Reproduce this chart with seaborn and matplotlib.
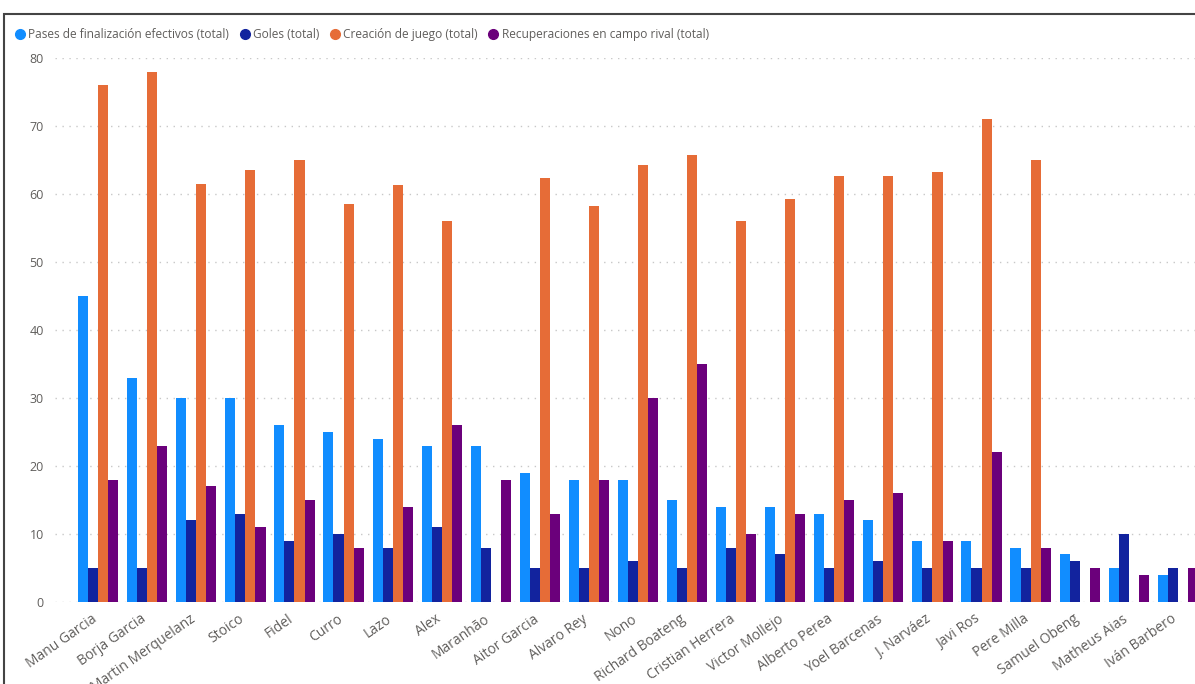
import pandas as pd
import matplotlib.pyplot as plt
import matplotlib.transforms as mtransforms
import seaborn as sns
from matplotlib.lines import Line2D
from matplotlib.patches import Rectangle

sns.set_theme(style="white")
plt.rcParams['font.family'] = ['Open Sans', 'DejaVu Sans']

players = ["Manu Garcia", "Borja Garcia", "Martin Merquelanz", "Stoico", "Fidel", "Curro",
           "Lazo", "Alex", "Maranhão", "Aitor Garcia", "Alvaro Rey", "Nono", "Richard Boateng",
           "Cristian Herrera", "Victor Mollejo", "Alberto Perea", "Yoel Barcenas", "J. Narváez",
           "Javi Ros", "Pere Milla", "Samuel Obeng", "Matheus Aias", "Iván Barbero"]
pases = [45, 33, 30, 30, 26, 25, 24, 23, 23, 19, 18, 18, 15, 14, 14, 13, 12, 9, 9, 8, 7, 5, 4]
goles = [5, 5, 12, 13, 9, 10, 8, 11, 8, 5, 5, 6, 5, 8, 7, 5, 6, 5, 5, 5, 6, 10, 5]
creacion = [76, 78, 61.5, 63.5, 65, 58.5, 61.3, 56, 0, 62.3, 58.3, 64.3, 65.7, 56, 59.2,
            62.7, 62.6, 63.2, 71, 65, 0, 0, 0]
recuperaciones = [18, 23, 17, 11, 15, 8, 14, 26, 18, 13, 18, 30, 35, 10, 13, 15, 16, 9, 22,
                  8, 5, 4, 5]

series = ["Pases de finalización efectivos (total)", "Goles (total)",
          "Creación de juego (total)", "Recuperaciones en campo rival (total)"]
colors = ["#118DFF", "#12239E", "#E66C37", "#6B007B"]

df = pd.DataFrame({"Jugador": players, series[0]: pases, series[1]: goles,
                   series[2]: creacion, series[3]: recuperaciones})
long = df.melt(id_vars="Jugador", var_name="Métrica", value_name="Valor")

fig = plt.figure(figsize=(11.95, 6.84), dpi=100)
ax = fig.add_axes([55 / 1195, 1 - 602 / 684, 1 - 55 / 1195, (602 - 58) / 684])

sns.barplot(data=long, x="Jugador", y="Valor", hue="Métrica", hue_order=series,
            palette=colors, width=0.82, saturation=1, linewidth=0, ax=ax, legend=False)

ax.set_ylim(0, 80)
ax.set_xlim(-0.88, 22.35)
ax.set_yticks(range(0, 81, 10))
ax.set_xlabel("")
ax.set_ylabel("")
for s in ax.spines.values():
    s.set_visible(False)
ax.yaxis.grid(True, linestyle=(0, (1, 4)), color="#c8c8c8", linewidth=1)
ax.set_axisbelow(True)
ax.tick_params(axis="y", labelsize=9, colors="#605E5C", pad=8, length=0)
ax.tick_params(axis="x", length=0, pad=7)
shift = mtransforms.ScaledTranslation(-7 / 100, 0, fig.dpi_scale_trans)
for lbl in ax.get_xticklabels():
    lbl.set_rotation(35)
    lbl.set_ha("right")
    lbl.set_rotation_mode("anchor")
    lbl.set_fontsize(10)
    lbl.set_color("#605E5C")
    lbl.set_transform(lbl.get_transform() + shift)

handles = [Line2D([], [], marker="o", linestyle="", color=c, markersize=7) for c in colors]
fig.legend(handles, series, loc="upper left", bbox_to_anchor=(8 / 1195, 1 - 28 / 684),
           ncol=4, frameon=False, fontsize=8.6, handletextpad=-0.3, columnspacing=0.3,
           borderaxespad=0, borderpad=0, labelcolor="#605E5C")

# frame of the screenshot
fig.patches.append(Rectangle((4 / 1195, -1), 2, 1 + (1 - 14 / 684), transform=fig.transFigure,
                             fill=False, edgecolor="#444444", linewidth=1.5,
                             clip_on=False))

fig.savefig("out.png", dpi=100)
